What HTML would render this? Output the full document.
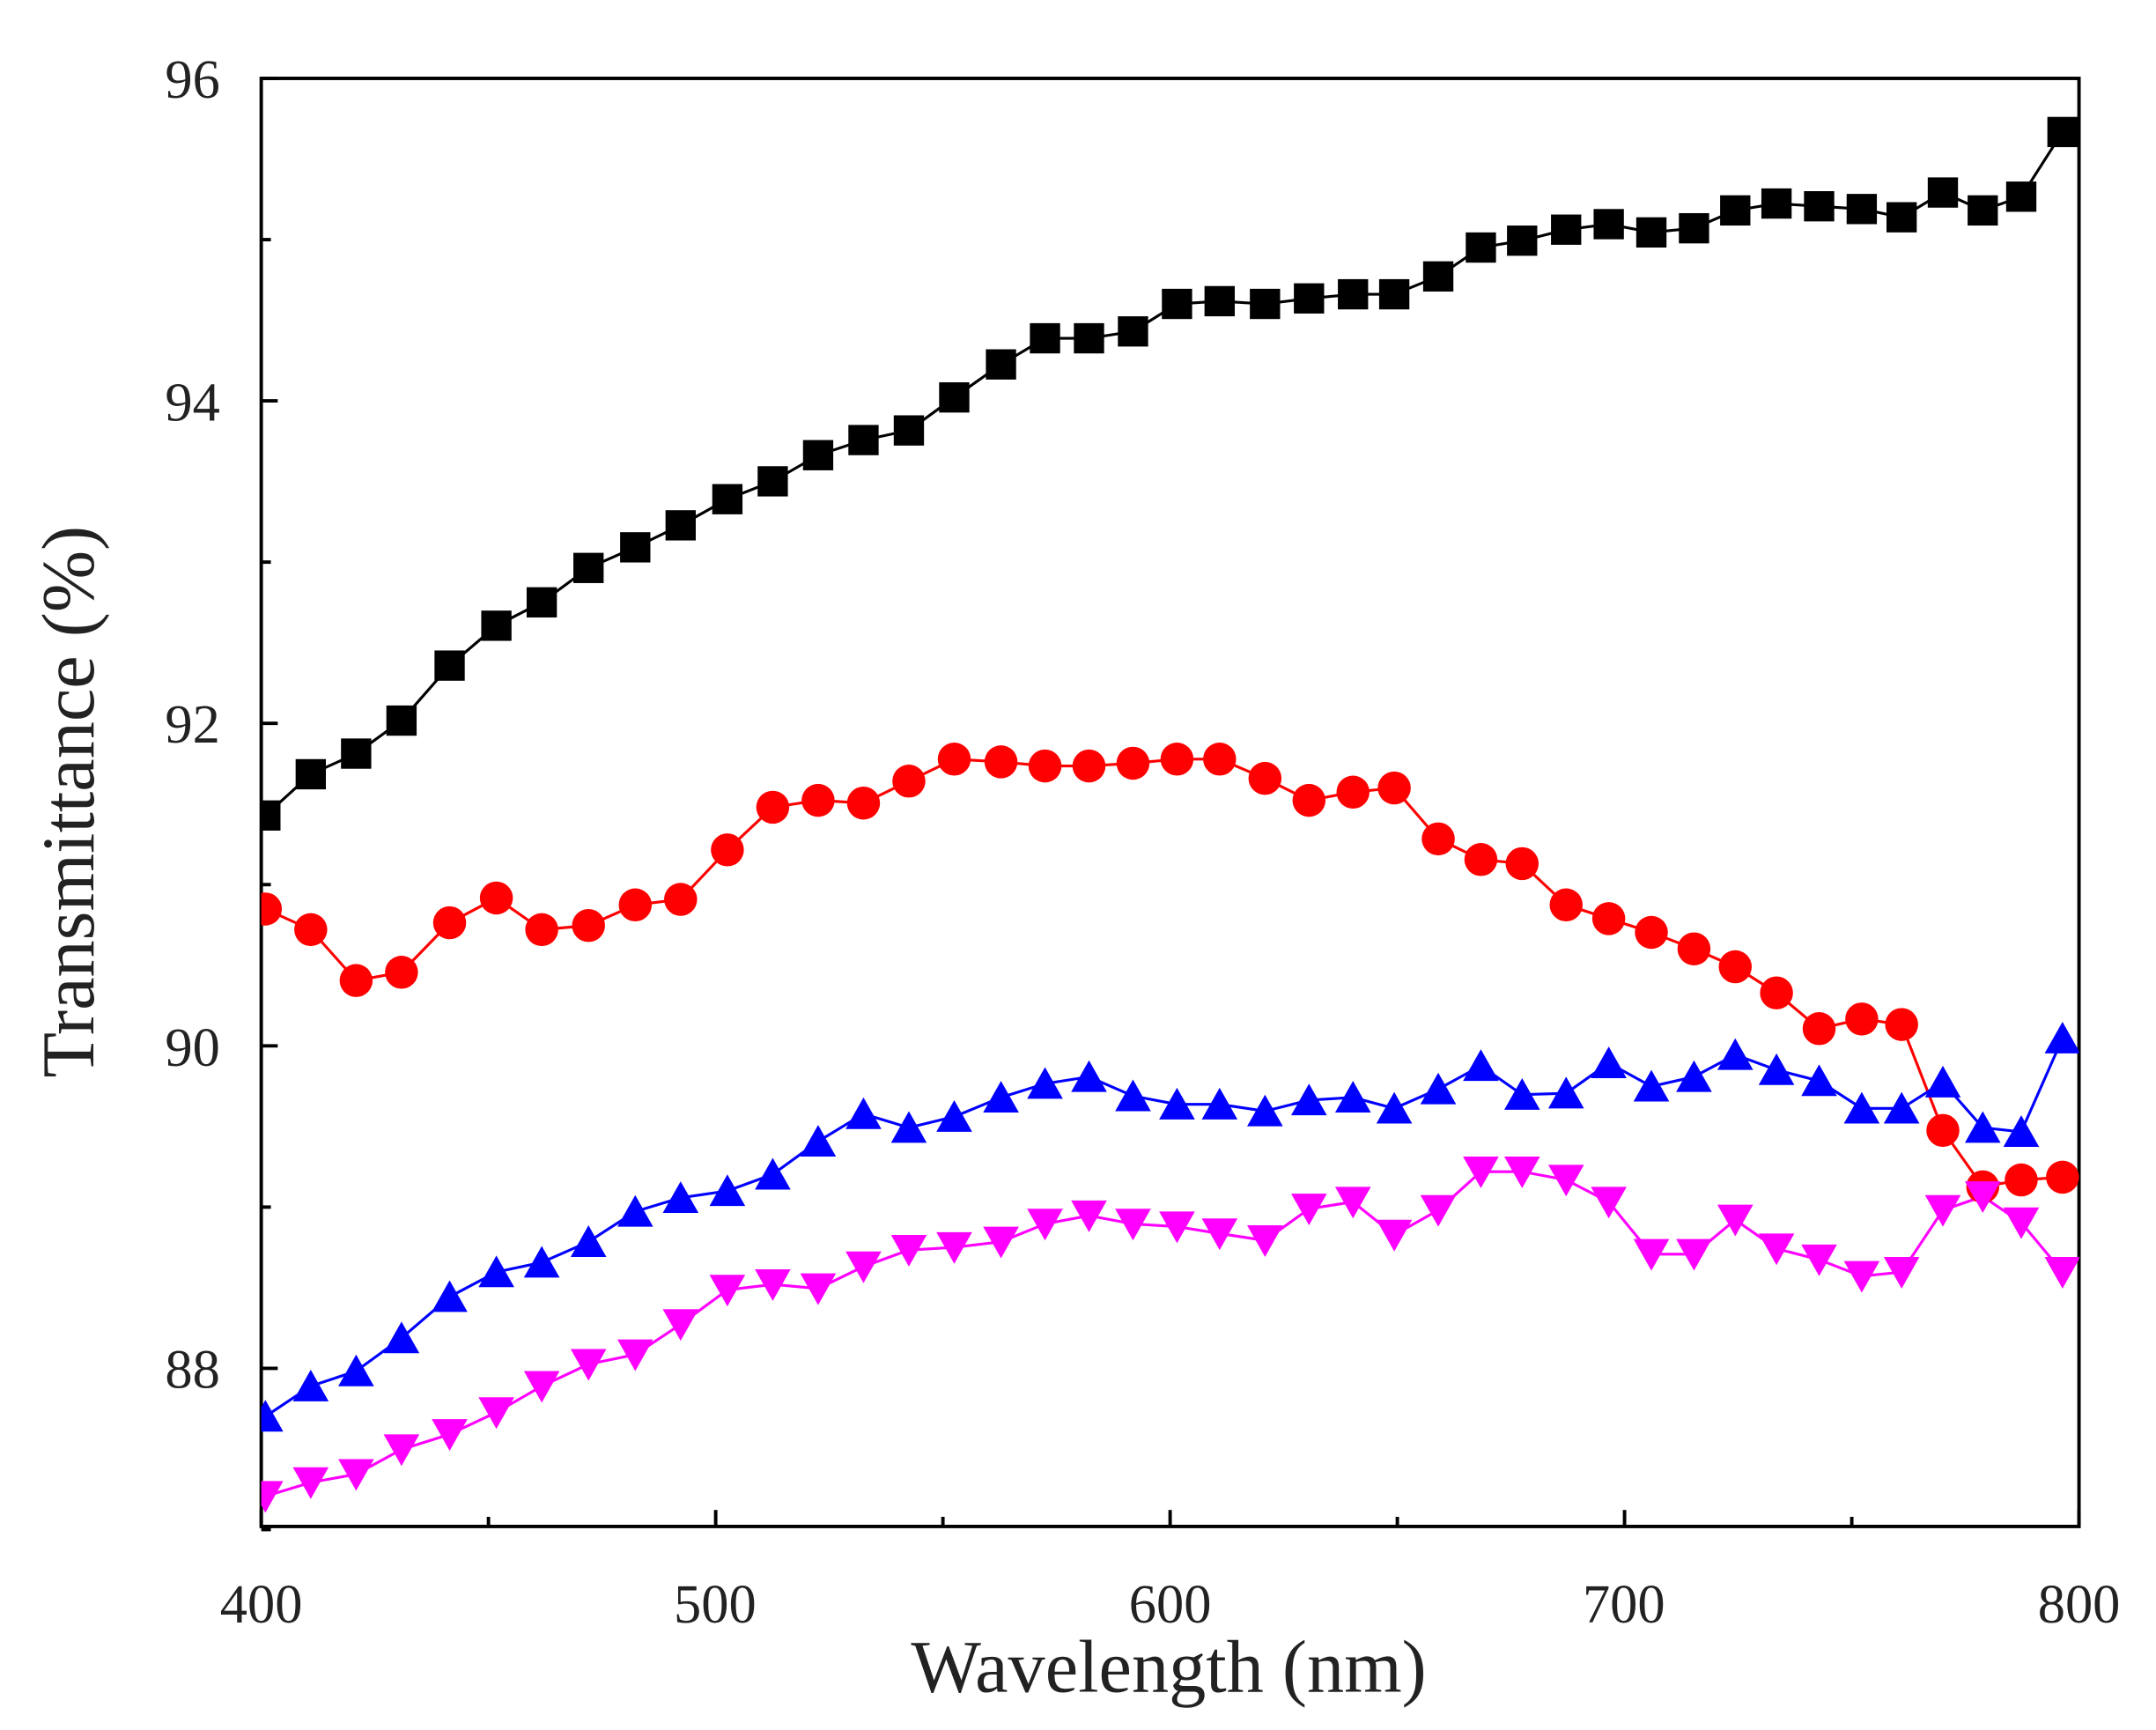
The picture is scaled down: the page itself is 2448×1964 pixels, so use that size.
<!DOCTYPE html>
<html><head><meta charset="utf-8"><style>html,body{margin:0;padding:0;background:#fff}svg{display:block}</style></head>
<body>
<svg id="s" width="2448" height="1964" viewBox="0 0 1568 1258" preserveAspectRatio="none" xmlns="http://www.w3.org/2000/svg" font-family="Liberation Serif, serif">
<defs><clipPath id="c"><rect x="190" y="57" width="1322" height="1053"/></clipPath></defs>
<rect x="190" y="57" width="1322" height="1053" fill="none" stroke="#000" stroke-width="2.5"/>
<g id="ticks" stroke="#000" stroke-width="2.5"></g>
<g font-size="40" fill="#222">
<text x="190" y="1180" text-anchor="middle">400</text>
<text x="520" y="1180" text-anchor="middle">500</text>
<text x="851" y="1180" text-anchor="middle">600</text>
<text x="1181" y="1180" text-anchor="middle">700</text>
<text x="1512" y="1180" text-anchor="middle">800</text>
<text x="160" y="71" text-anchor="end">96</text>
<text x="160" y="306" text-anchor="end">94</text>
<text x="160" y="540" text-anchor="end">92</text>
<text x="160" y="775" text-anchor="end">90</text>
<text x="160" y="1009" text-anchor="end">88</text>
</g>
<text x="850" y="1230" text-anchor="middle" font-size="54" fill="#222">Wavelength (nm)</text>
<text transform="translate(68,583) rotate(-90)" text-anchor="middle" font-size="54" fill="#222">Transmittance (%)</text>
<g id="data" clip-path="url(#c)"></g>
</svg>
<script>
var xs=[193,226,259,292,327,361,394,428,462,495,529,562,595,628,661,694,728,760,792,824,856,887,920,952,984,1014,1046,1077,1107,1139,1170,1201,1232,1262,1292,1323,1354,1383,1413,1442,1470,1500];
var K=[593,563,548,524,484,455,438,413,398,382,363,350,331,320,313,289,265,246,246,241,221,219,221,217,214,214,201,180,175,167,163,169,166,153,148,150,152,158,140,153,143,96];
var R=[661,676,713,707,671,653,676,673,658,654,618,587,582,584,568,552,554,557,557,555,552,552,566,582,576,573,610,625,628,658,668,678,690,703,722,748,741,745,822,863,858,856];
var B=[1030,1008,997,973,943,925,918,903,881,871,866,854,830,810,820,812,798,788,783,797,803,803,808,800,798,806,792,775,796,795,773,790,783,767,778,786,806,806,787,820,823,755];
var M=[1088,1078,1072,1054,1043,1027,1008,992,985,963,938,934,937,921,909,907,903,890,884,890,892,897,902,879,874,898,880,852,852,858,874,912,912,887,908,916,928,925,880,870,889,925];
var g=document.getElementById('data'),h='';
function line(ys,col){var p=xs.map(function(x,i){return x+','+ys[i]}).join(' ');h+='<polyline points="'+p+'" fill="none" stroke="'+col+'" stroke-width="2"/>';}
line(K,'#000');line(R,'#f00');line(B,'#00f');line(M,'#f0f');
xs.forEach(function(x,i){
 h+='<rect x="'+(x-11)+'" y="'+(K[i]-11)+'" width="22" height="22" fill="#000"/>';
 h+='<circle cx="'+x+'" cy="'+R[i]+'" r="12" fill="#f00"/>';
 h+='<polygon points="'+(x-13)+','+(B[i]+11)+' '+(x+13)+','+(B[i]+11)+' '+x+','+(B[i]-12)+'" fill="#00f"/>';
 h+='<polygon points="'+(x-13)+','+(M[i]-11)+' '+(x+13)+','+(M[i]-11)+' '+x+','+(M[i]+12)+'" fill="#f0f"/>';
});
g.innerHTML=h;
var t='';
[400,450,500,550,600,650,700,750,800].forEach(function(v){var x=190+(v-400)*3.305;var L=(v%100==0)?12:7;t+='<line x1="'+x+'" y1="1110" x2="'+x+'" y2="'+(1110-L)+'"/>';});
for(var v=87;v<=96;v+=1){var y=57+(96-v)*117.25;var L=(v%2==0)?12:7;t+='<line x1="190" y1="'+y+'" x2="'+(190+L)+'" y2="'+y+'"/>';}
document.getElementById('ticks').innerHTML=t;
</script>
</body></html>
